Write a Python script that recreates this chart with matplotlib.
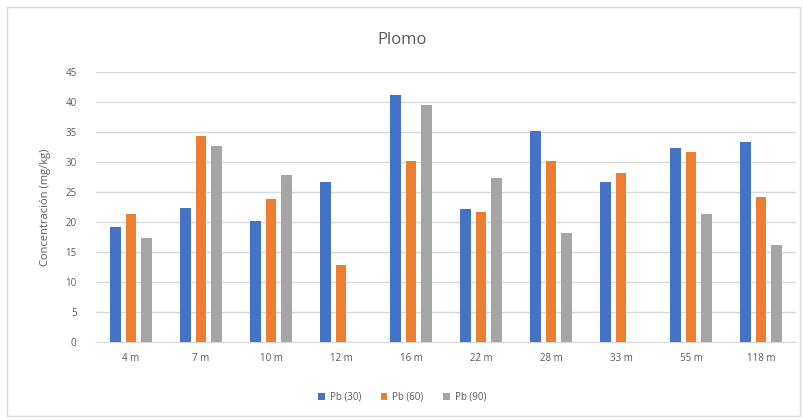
import matplotlib.pyplot as plt
import matplotlib.patches as mpatches
import numpy as np

plt.rcParams['font.family'] = ['Open Sans', 'DejaVu Sans']

# datos
depths = ['4 m', '7 m', '10 m', '12 m', '16 m', '22 m', '28 m', '33 m', '55 m', '118 m']
pb_30 = [19.1, 22.4, 20.2, 26.6, 41.1, 22.2, 35.1, 26.6, 32.4, 33.4]
pb_60 = [21.4, 34.4, 23.9, 12.9, 30.1, 21.7, 30.1, 28.1, 31.6, 24.2]
pb_90 = [17.4, 32.6, 27.8, np.nan, 39.5, 27.4, 18.2, np.nan, 21.4, 16.2]
series_names = ['Pb (30)', 'Pb (60)', 'Pb (90)']

colors = ['#4472C4', '#ED7D31', '#A5A5A5']
text_col = '#595959'

fig = plt.figure(figsize=(8.04, 4.2), dpi=100)
ax = fig.add_axes([96 / 804, 0.1857, 700 / 804, 0.6429])

# marco exterior del grafico
fig.patches.append(mpatches.Rectangle((7 / 804, 4 / 420), 793 / 804, 409 / 420,
                                      transform=fig.transFigure, fill=False,
                                      edgecolor='#D9D9D9', linewidth=1))

x = np.arange(len(depths))
w = 0.155
step = 0.226
for i, (vals, name) in enumerate(zip([pb_30, pb_60, pb_90], series_names)):
    ax.bar(x + (i - 1) * step, vals, width=w, color=colors[i], label=name, zorder=3)

ax.set_xlim(-0.5, len(depths) - 0.5)
ax.set_ylim(0, 45)
ax.set_yticks(np.arange(0, 46, 5))
ax.set_xticks(x)
ax.set_xticklabels(depths)
ax.grid(axis='y', color='#D9D9D9', linewidth=1, zorder=0)
for s in ['top', 'right', 'left']:
    ax.spines[s].set_visible(False)
ax.spines['bottom'].set_color('#D9D9D9')
ax.tick_params(length=0, labelsize=7, colors=text_col, pad=8)
ax.tick_params(axis='y', pad=14)

fig.text(0.5, 1 - 40 / 420, 'Plomo', fontsize=12, color=text_col,
         ha='center', va='center')
ax.set_ylabel('Concentración (mg/kg)', fontsize=8, color=text_col, labelpad=10)

leg = fig.legend(loc='center', bbox_to_anchor=(0.5, 1 - 397 / 420), ncol=3,
                 frameon=False, fontsize=7, handlelength=0.7, handleheight=0.7,
                 columnspacing=2.0, handletextpad=0.5, labelcolor=text_col)

fig.savefig('out.png', dpi=100)
